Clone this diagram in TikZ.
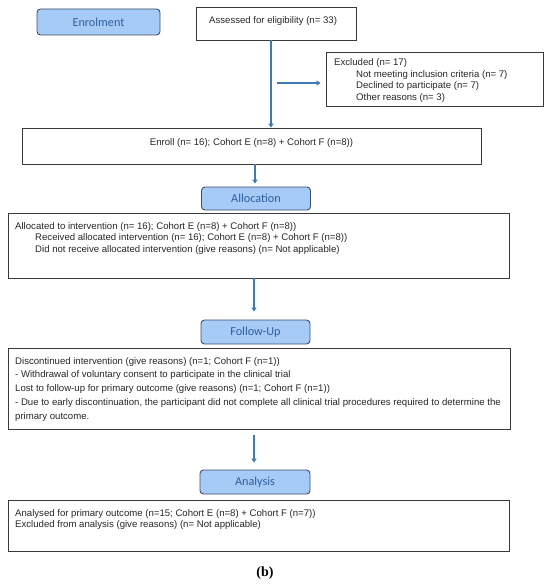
\documentclass[tikz,border=0pt]{standalone}
\usepackage{fontspec}
\setmainfont{Liberation Sans}
\newfontfamily\hdrfont{Carlito}
\newfontfamily\capfont{Liberation Serif}
\usetikzlibrary{arrows.meta}
\definecolor{hdrfill}{HTML}{A6CBF6}
\definecolor{hdrdraw}{HTML}{3E4E68}
\definecolor{hdrtext}{HTML}{2F5E9E}
\definecolor{arrowc}{HTML}{3C7BB5}
\definecolor{boxdraw}{HTML}{3A3A3A}
\tikzset{
  x=1pt,y=-1pt,
  hdr/.style={draw=hdrdraw,line width=0.9pt,fill=hdrfill,rounded corners=3.5pt,
    font=\hdrfont\fontsize{12.2}{14}\selectfont,text=hdrtext,inner sep=0pt},
  frame/.style={draw=boxdraw,line width=0.8pt,inner sep=0pt},
  txt/.style={anchor=west,inner sep=0pt,font=\fontsize{9.6}{11}\selectfont,text=black!85},
  flow/.style={draw=arrowc,line width=1.8pt,-{Triangle[length=4pt,width=5pt]}},
}
\begin{document}
\begin{tikzpicture}
\useasboundingbox (0,0) rectangle (550,586);
% header boxes
\node[hdr,minimum width=123pt,minimum height=26pt] (enrolhdr) at (98.5,22) {Enrolment};
\node[hdr,minimum width=109pt,minimum height=23pt] (allochdr) at (256,198.5) {Allocation};
\node[hdr,minimum width=109pt,minimum height=24pt] (followhdr) at (255.5,332) {Follow-Up};
\node[hdr,minimum width=110pt,minimum height=24pt] (analhdr) at (255,482) {Analysis};
% frames
\node[frame,minimum width=160pt,minimum height=33pt] (assess) at (276,23.5) {};
\node[frame,minimum width=217pt,minimum height=54pt] (excl) at (434.5,79) {};
\node[frame,minimum width=459pt,minimum height=36pt] (enroll) at (251.5,146) {};
\node[frame,minimum width=501pt,minimum height=65pt] (alloc) at (258.5,245.5) {};
\node[frame,minimum width=502pt,minimum height=81pt] (follow) at (259,388.5) {};
\node[frame,minimum width=501pt,minimum height=51pt] (anal) at (258.5,525.5) {};
% texts
\node[txt] (tassess) at (209,21) {Assessed for eligibility (n= 33)};
\node[txt] (tex1) at (334,63.5) {Excluded (n= 17)};
\node[txt] (tex2) at (356,75) {Not meeting inclusion criteria (n= 7)};
\node[txt] (tex3) at (356,86.5) {Declined to participate (n= 7)};
\node[txt] (tex4) at (356,98) {Other reasons (n= 3)};
\node[txt,anchor=center] (tenroll) at (251.5,143) {Enroll (n= 16); Cohort E (n=8) + Cohort F (n=8))};
\node[txt] (tal1) at (15,227) {Allocated to intervention (n= 16); Cohort E (n=8) + Cohort F (n=8))};
\node[txt] (tal2) at (35,238.5) {Received allocated intervention (n= 16); Cohort E (n=8) + Cohort F (n=8))};
\node[txt] (tal3) at (35,250) {Did not receive allocated intervention (give reasons) (n= Not applicable)};
\node[txt] (tfu1) at (15,362) {Discontinued intervention (give reasons) (n=1; Cohort F (n=1))};
\node[txt] (tfu2) at (15,375.5) {- Withdrawal of voluntary consent to participate in the clinical trial};
\node[txt] (tfu3) at (15,389) {Lost to follow-up for primary outcome (give reasons) (n=1; Cohort F (n=1))};
\node[txt] (tfu4) at (15,403) {- Due to early discontinuation, the participant did not complete all clinical trial procedures required to determine the};
\node[txt] (tfu5) at (15,417) {primary outcome.};
\node[txt] (tan1) at (15,514) {Analysed for primary outcome (n=15; Cohort E (n=8) + Cohort F (n=7))};
\node[txt] (tan2) at (15,525.5) {Excluded from analysis (give reasons) (n= Not applicable)};
\node[font=\capfont\bfseries\fontsize{14}{16}\selectfont,inner sep=0pt] (cap) at (265,573) {(b)};
% connectors
\coordinate (exstart) at (277,83);
\draw[flow] ([xshift=-5pt]assess.south) -- ([xshift=-5pt]assess.south |- enroll.north);
\draw[flow,shorten >=5pt] (exstart) -- (exstart -| excl.west);
\draw[flow,shorten >=3pt] ([xshift=3.5pt]enroll.south) -- ([xshift=3.5pt]enroll.south |- allochdr.north);
\draw[flow,shorten >=8pt] ([xshift=-4.5pt]alloc.south) -- ([xshift=-4.5pt]alloc.south |- followhdr.north);
\draw[flow,shorten <=6pt,shorten >=7pt] ([xshift=-5pt]follow.south) -- ([xshift=-5pt]follow.south |- analhdr.north);
\end{tikzpicture}
\end{document}
